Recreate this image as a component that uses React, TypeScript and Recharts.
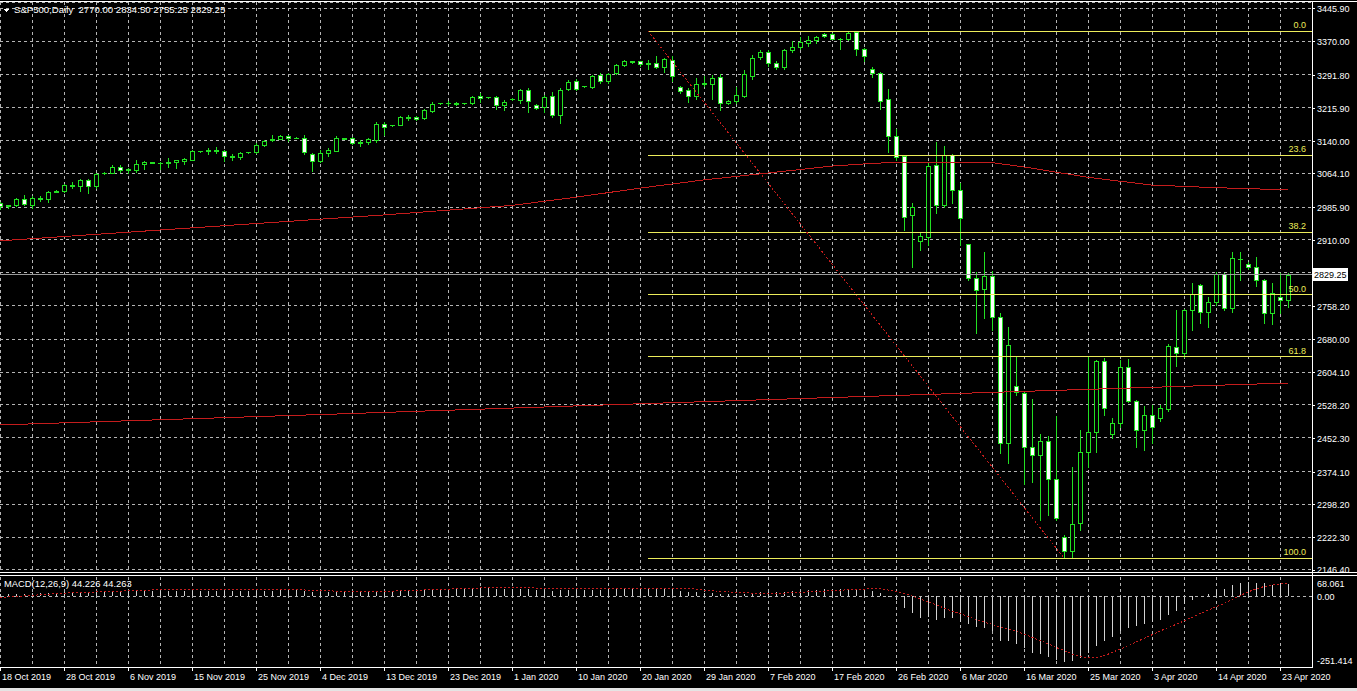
import React from "react";
import {
  ComposedChart,
  Bar,
  Line,
  XAxis,
  YAxis,
  CartesianGrid,
  ReferenceLine,
} from "recharts";

// date labels, one every 8 daily bars (the feed has Sunday bars)
const tickLabels = [
  "18 Oct 2019", "28 Oct 2019", "6 Nov 2019", "15 Nov 2019", "25 Nov 2019",
  "4 Dec 2019", "13 Dec 2019", "23 Dec 2019", "1 Jan 2020", "10 Jan 2020",
  "20 Jan 2020", "29 Jan 2020", "7 Feb 2020", "17 Feb 2020", "26 Feb 2020",
  "6 Mar 2020", "16 Mar 2020", "25 Mar 2020", "3 Apr 2020", "14 Apr 2020",
  "23 Apr 2020",
];

const opens = [
  2996, 2988, 2990, 3005, 2992, 3008, 3004, 3022,
  3023, 3037, 3035, 3048, 3035, 3064, 3065, 3080,
  3071, 3073, 3086, 3089, 3089, 3087, 3090, 3093,
  3096, 3115, 3116, 3119, 3117, 3104, 3101, 3113,
  3113, 3130, 3141, 3144, 3150, 3146, 3146, 3110,
  3093, 3111, 3117, 3145, 3145, 3134, 3136, 3142,
  3178, 3175, 3177, 3194, 3194, 3192, 3209, 3226,
  3226, 3227, 3226, 3227, 3242, 3240, 3240, 3223,
  3236, 3235, 3257, 3222, 3217, 3244, 3199, 3259,
  3278, 3266, 3265, 3292, 3278, 3296, 3316, 3323,
  3323, 3318, 3320, 3311, 3327, 3264, 3256, 3244,
  3273, 3271, 3286, 3228, 3231, 3243, 3290, 3333,
  3346, 3319, 3311, 3349, 3357, 3366, 3373, 3386,
  3386, 3376, 3375, 3391, 3352, 3305, 3297, 3236,
  3150, 3104, 2968, 2908, 2918, 3084, 2992, 3106,
  3026, 2900, 2822, 2796, 2826, 2732, 2441, 2571,
  2556, 2431, 2412, 2445, 2357, 2223, 2190, 2255,
  2419, 2466, 2630, 2460, 2486, 2616, 2537, 2470,
  2505, 2498, 2519, 2662, 2648, 2748, 2806, 2744,
  2766, 2831, 2752, 2866, 2855, 2847, 2817, 2741,
  2778, 2770,
];

const highs = [
  2999, 2992, 3008, 3013, 3012, 3012, 3023, 3025,
  3040, 3045, 3051, 3050, 3066, 3067, 3083, 3083,
  3076, 3095, 3092, 3091, 3090, 3099, 3095, 3100,
  3118, 3117, 3123, 3125, 3119, 3108, 3114, 3114,
  3134, 3142, 3152, 3152, 3154, 3148, 3154, 3112,
  3119, 3123, 3150, 3146, 3148, 3142, 3146, 3183,
  3184, 3177, 3198, 3199, 3198, 3213, 3230, 3228,
  3232, 3229, 3227, 3242, 3249, 3241, 3243, 3233,
  3238, 3260, 3262, 3224, 3245, 3252, 3262, 3280,
  3282, 3267, 3292, 3296, 3297, 3318, 3327, 3325,
  3325, 3327, 3336, 3331, 3335, 3266, 3262, 3285,
  3290, 3292, 3294, 3235, 3265, 3303, 3337, 3350,
  3349, 3323, 3352, 3370, 3380, 3382, 3383, 3388,
  3388, 3378, 3393, 3393, 3355, 3310, 3299, 3259,
  3166, 3106, 2996, 2927, 3090, 3136, 3128, 3110,
  3042, 2901, 2836, 2882, 2838, 2742, 2708, 2640,
  2560, 2542, 2461, 2456, 2503, 2228, 2385, 2470,
  2639, 2633, 2637, 2498, 2632, 2634, 2540, 2526,
  2527, 2527, 2670, 2748, 2750, 2810, 2808, 2778,
  2835, 2834, 2882, 2882, 2858, 2870, 2820, 2810,
  2834, 2834.5,
];

const lows = [
  2981, 2985, 2988, 2992, 2983, 3000, 2998, 3020,
  3021, 3030, 3024, 3019, 3030, 3062, 3064, 3068,
  3064, 3068, 3075, 3087, 3075, 3080, 3077, 3085,
  3094, 3114, 3110, 3111, 3093, 3094, 3097, 3111,
  3112, 3128, 3139, 3143, 3140, 3145, 3110, 3070,
  3090, 3104, 3115, 3143, 3133, 3127, 3133, 3136,
  3152, 3174, 3175, 3188, 3187, 3190, 3205, 3225,
  3222, 3222, 3225, 3225, 3230, 3239, 3213, 3210,
  3235, 3226, 3206, 3212, 3206, 3195, 3181, 3256,
  3257, 3265, 3262, 3274, 3273, 3294, 3313, 3319,
  3312, 3306, 3309, 3298, 3278, 3250, 3230, 3236,
  3266, 3237, 3211, 3225, 3226, 3240, 3283, 3328,
  3313, 3305, 3305, 3344, 3352, 3360, 3365, 3380,
  3374, 3352, 3373, 3337, 3324, 3287, 3212, 3114,
  3096, 2933, 2847, 2887, 2898, 2972, 2986, 2995,
  2898, 2818, 2694, 2729, 2702, 2417, 2394, 2552,
  2345, 2350, 2262, 2274, 2262, 2174, 2174, 2239,
  2385, 2420, 2505, 2452, 2477, 2535, 2431, 2424,
  2440, 2490, 2515, 2618, 2640, 2702, 2718, 2709,
  2760, 2747, 2743, 2817, 2843, 2803, 2718, 2715,
  2741, 2755.25,
];

const closes = [
  2988, 2990, 3005, 2994, 3008, 3004, 3020, 3023,
  3037, 3035, 3048, 3035, 3063, 3065, 3079, 3071,
  3074, 3085, 3091, 3090, 3087, 3091, 3094, 3097,
  3116, 3116, 3119, 3117, 3105, 3101, 3111, 3113,
  3130, 3140, 3144, 3150, 3145, 3146, 3113, 3093,
  3111, 3118, 3146, 3144, 3135, 3137, 3143, 3178,
  3172, 3176, 3194, 3192, 3190, 3210, 3225, 3227,
  3227, 3225, 3226, 3240, 3238, 3240, 3222, 3230,
  3237, 3257, 3232, 3216, 3241, 3199, 3258, 3276,
  3260, 3266, 3290, 3278, 3295, 3316, 3323, 3321,
  3318, 3319, 3311, 3328, 3290, 3255, 3244, 3272,
  3272, 3285, 3227, 3231, 3245, 3294, 3332, 3346,
  3320, 3311, 3349, 3357, 3367, 3372, 3380, 3382,
  3376, 3375, 3390, 3352, 3336, 3297, 3232, 3150,
  3103, 2963, 2986, 2919, 3082, 2992, 3106, 3026,
  2962, 2822, 2794, 2827, 2731, 2441, 2667, 2559,
  2431, 2413, 2445, 2357, 2267, 2190, 2253, 2419,
  2466, 2630, 2521, 2486, 2616, 2537, 2470, 2505,
  2477, 2521, 2664, 2648, 2748, 2785, 2744, 2766,
  2831, 2753, 2868, 2867, 2847, 2817, 2741, 2787,
  2770, 2829.25,
];

// MACD(12,26,9): main line drawn as histogram, signal as dotted line
const macdHist = [
  6, 7, 8, 9, 10, 11, 12, 13,
  14, 15, 16, 15, 17, 17, 18, 18,
  18, 19, 19, 19, 19, 19, 19, 19,
  20, 20, 20, 19, 18, 17, 17, 17,
  18, 19, 20, 21, 21, 21, 19, 15,
  14, 14, 16, 16, 15, 15, 15, 18,
  19, 20, 21, 22, 23, 24, 26, 27,
  27, 27, 27, 28, 28, 28, 26, 25,
  25, 26, 24, 22, 22, 19, 21, 22,
  22, 22, 23, 23, 24, 26, 27, 28,
  28, 28, 27, 27, 24, 19, 15, 14,
  13, 13, 9, 7, 7, 9, 12, 15,
  15, 14, 16, 18, 20, 22, 23, 24,
  25, 25, 26, 24, 22, 18, 10, -2,
  -14, -42, -60, -76, -74, -83, -76, -76,
  -91, -98, -110, -114, -125, -158, -158, -170,
  -184, -201, -204, -217, -227, -232, -230, -220,
  -203, -176, -160, -146, -124, -113, -105, -98,
  -93, -84, -68, -53, -29, -12, -1, 7,
  22, 26, 38, 48, 50, 48, 48, 41,
  45, 44.226,
];

const macdSignal = [
  -5, -3, -1, 1, 3, 5, 7, 9,
  11, 12, 13, 14, 15, 16, 17, 18,
  19, 20, 21, 22, 22, 23, 23, 23,
  24, 24, 24, 24, 24, 24, 24, 24,
  24, 23, 23, 23, 23, 22, 22, 21,
  20, 19, 18, 17, 17, 17, 17, 17,
  18, 18, 19, 20, 21, 22, 23, 24,
  25, 26, 27, 28, 29, 30, 30, 30,
  30, 30, 30, 29, 28, 27, 27, 27,
  27, 27, 27, 27, 27, 27, 28, 28,
  28, 29, 29, 29, 29, 28, 27, 25,
  22, 20, 17, 15, 13, 12, 11, 11,
  11, 11, 11, 12, 13, 15, 16, 18,
  20, 21, 23, 24, 25, 26, 26, 22,
  17, 10, 1, -10, -20, -31, -42, -53,
  -62, -72, -82, -92, -100, -109, -117, -125,
  -134, -146, -158, -168, -182, -193, -205, -214,
  -218, -217, -212, -200, -188, -176, -163, -150,
  -137, -124, -112, -100, -88, -75, -62, -50,
  -38, -26, -12, 2, 15, 26, 34, 40,
  43, 44.263,
];

// moving averages, read at a few bars
const maFastBars = [0, 8, 16, 24, 32, 40, 48, 56, 64, 72, 80, 88, 96, 104, 108, 112, 116, 120, 124, 128, 136, 144, 152, 161];
const maFastValues = [2908, 2918, 2928, 2938, 2948, 2958, 2968, 2979, 2990, 3009, 3030, 3049, 3065, 3081, 3086, 3090, 3090, 3090, 3089, 3079, 3055, 3037, 3031, 3026];
const maSlowBars = [0, 40, 80, 120, 161];
const maSlowValues = [2482, 2506, 2531, 2555, 2579];

const priceTicks = [
  3445.9, 3370.0, 3291.8, 3215.9, 3140.0, 3064.1, 2985.9, 2910.0, 2834.1,
  2758.2, 2680.0, 2604.1, 2528.2, 2452.3, 2374.1, 2298.2, 2222.3, 2146.4,
];
const coveredPriceTick = 2834.1;

const macdTicks = [68.061, 0, -251.414];
const macdTickLabels = ["68.061", "0.00", "-251.414"];

const fibLevels = [0, 23.6, 38.2, 50, 61.8, 100];
const fibHigh = 3393.5;
const fibLow = 2174;
const fibStartBar = 81;
const fibLowBar = 133;

const FONT = "'Liberation Sans', Arial, sans-serif";
const GREEN = "#22e022";
const GRID = "#b4b4b4";
const RED = "#c41c1c";
const YELLOW = "#ecec5a";

const last = closes.length - 1;
const gridBars = tickLabels.flatMap((_, k) => [k * 8, k * 8 + 4]);
const xDomain = [0, 164];

const data = opens.map((o, i) => {
  const f = maFastBars.indexOf(i);
  const s = maSlowBars.indexOf(i);
  return {
    i,
    open: o,
    high: highs[i],
    low: lows[i],
    close: closes[i],
    hist: macdHist[i],
    signal: macdSignal[i],
    maFast: f >= 0 ? maFastValues[f] : null,
    maSlow: s >= 0 ? maSlowValues[s] : null,
  };
});

function Candle(props: any) {
  const { x, y, width, height, payload } = props;
  if (x == null || !payload) return null;
  const { open, close, high, low } = payload;
  const cx = Math.round(x + width / 2) + 0.5;
  const k = high > low ? height / (high - low) : 0;
  const py = (v: number) => y + (high - v) * k;
  const top = Math.round(py(Math.max(open, close))) + 0.5;
  const bot = Math.round(py(Math.min(open, close))) + 0.5;
  const bear = close < open;
  return (
    <g>
      <line x1={cx} x2={cx} y1={Math.round(y)} y2={Math.round(y + height) + 1} stroke={GREEN} />
      {bot - top < 1 ? (
        <line x1={cx - 2.5} x2={cx + 2.5} y1={top} y2={top} stroke={GREEN} />
      ) : (
        <rect x={cx - 2} y={top} width={4} height={bot - top} fill={bear ? "#ffffff" : "#000000"} stroke={GREEN} />
      )}
    </g>
  );
}

function HistBar(props: any) {
  const { x, y, width, height } = props;
  if (x == null) return null;
  const cx = Math.round(x + width / 2) + 0.5;
  return <line x1={cx} x2={cx} y1={y} y2={y + height} stroke="#d2d2d2" />;
}

function EmptyTick() {
  return <g />;
}

function PriceTick({ x, y, payload, index }: any) {
  const v = payload.value;
  if (v === coveredPriceTick) return <g />;
  const shift = index === priceTicks.length - 1 ? -1 : 0;
  return (
    <g>
      <line x1={x} x2={x + 3} y1={y + 0.5} y2={y + 0.5} stroke="#fff" />
      <text x={x + 5} y={y + 4 + shift} fill="#fff" fontSize={9} fontFamily={FONT}>
        {v.toFixed(2)}
      </text>
    </g>
  );
}

function MacdTick({ x, y, index }: any) {
  const shift = index === 0 ? 6 : index === macdTicks.length - 1 ? -7 : 0;
  return (
    <text x={x + 5} y={y + 4 + shift} fill="#fff" fontSize={9} fontFamily={FONT}>
      {macdTickLabels[index]}
    </text>
  );
}

function DateTick({ x, y, payload }: any) {
  const v = payload.value;
  if (v % 8 !== 0) return <g />;
  const cx = Math.round(x) + 0.5;
  return (
    <g>
      <line x1={cx} x2={cx} y1={y} y2={y + 4} stroke="#fff" />
      <text x={cx + 1.5} y={y + 13} fill="#fff" fontSize={9} fontFamily={FONT}>
        {tickLabels[v / 8]}
      </text>
    </g>
  );
}

const fibLabel = (text: string) => (p: any) => {
  const vb = p.viewBox;
  return (
    <text x={vb.x + vb.width - 6} y={vb.y - 3} textAnchor="end" fill={YELLOW} fontSize={9} fontFamily={FONT}>
      {text}
    </text>
  );
};

const bidLabel = (p: any) => {
  const vb = p.viewBox;
  const left = vb.x + vb.width;
  return (
    <g>
      <rect x={left + 0.5} y={Math.round(vb.y) - 6.5} width={35} height={12} fill="#fff" stroke="#fff" />
      <text x={left + 2} y={vb.y + 3.5} fill="#000" fontSize={9} fontFamily={FONT}>
        {closes[last].toFixed(2)}
      </text>
    </g>
  );
};

const line = (top: number, left: number, w: number, h: number, c = "#fff") => (
  <div style={{ position: "absolute", top, left, width: w, height: h, background: c }} />
);

export default function App() {
  const title = `S&P500,Daily  ${opens[last].toFixed(2)} ${highs[last].toFixed(2)} ${lows[last].toFixed(2)} ${closes[last].toFixed(2)}`;
  const macdTitle = `MACD(12,26,9) ${macdHist[last].toFixed(3)} ${macdSignal[last].toFixed(3)}`;
  return (
    <div
      style={{
        position: "absolute",
        left: 0,
        top: 0,
        width: 1357,
        height: 691,
        background: "#000",
        overflow: "hidden",
        shapeRendering: "crispEdges",
      }}
    >
      <div style={{ position: "absolute", left: 0, top: 0 }}>
        <ComposedChart width={1357} height={577} data={data} margin={{ top: 2, right: 0, bottom: 0, left: 0 }}>
          <CartesianGrid stroke={GRID} strokeDasharray="3 3" />
          <XAxis
            dataKey="i"
            type="number"
            domain={xDomain}
            ticks={gridBars}
            interval={0}
            allowDataOverflow
            height={5}
            axisLine={false}
            tickLine={false}
            tick={<EmptyTick />}
          />
          <YAxis
            orientation="right"
            width={45}
            type="number"
            domain={[2141.69, 3460.67]}
            allowDataOverflow
            ticks={priceTicks}
            interval={0}
            axisLine={false}
            tickLine={false}
            tickSize={0}
            tickMargin={0}
            tick={<PriceTick />}
          />
          <Line dataKey="maSlow" stroke={RED} strokeWidth={1} dot={false} connectNulls isAnimationActive={false} />
          <Line dataKey="maFast" stroke={RED} strokeWidth={1} dot={false} connectNulls isAnimationActive={false} />
          <ReferenceLine y={closes[last]} stroke="#9a9a9a" label={bidLabel} />
          {fibLevels.map((lv) => (
            <ReferenceLine
              key={lv}
              segment={[
                { x: fibStartBar, y: fibHigh - (lv / 100) * (fibHigh - fibLow) },
                { x: xDomain[1], y: fibHigh - (lv / 100) * (fibHigh - fibLow) },
              ]}
              stroke={YELLOW}
              label={fibLabel(lv.toFixed(1))}
            />
          ))}
          <ReferenceLine
            segment={[
              { x: fibStartBar, y: fibHigh },
              { x: fibLowBar, y: fibLow },
            ]}
            stroke={RED}
            strokeDasharray="2 2"
          />
          <Bar
            dataKey={(d: any) => [d.low, d.high]}
            shape={<Candle />}
            barSize={5}
            isAnimationActive={false}
          />
        </ComposedChart>
      </div>

      <div style={{ position: "absolute", left: 0, top: 574 }}>
        <ComposedChart width={1357} height={117} data={data} margin={{ top: 3, right: 0, bottom: 0, left: 0 }}>
          <CartesianGrid stroke={GRID} strokeDasharray="3 3" horizontal={false} />
          <XAxis
            dataKey="i"
            type="number"
            domain={xDomain}
            ticks={gridBars}
            interval={0}
            allowDataOverflow
            height={24}
            axisLine={false}
            tickLine={false}
            tickSize={0}
            tickMargin={0}
            tick={<DateTick />}
          />
          <YAxis
            orientation="right"
            width={45}
            type="number"
            domain={[-251.414, 68.061]}
            allowDataOverflow
            ticks={macdTicks}
            interval={0}
            axisLine={false}
            tickLine={false}
            tickSize={0}
            tickMargin={0}
            tick={<MacdTick />}
          />
          <ReferenceLine y={0} stroke={GRID} strokeDasharray="3 3" />
          <Bar dataKey="hist" shape={<HistBar />} barSize={1} isAnimationActive={false} />
          <Line dataKey="signal" stroke={RED} strokeWidth={1} strokeDasharray="2 2" dot={false} isAnimationActive={false} />
        </ComposedChart>
      </div>

      {line(1, 0, 1357, 1)}
      {line(572, 0, 1357, 1)}
      {line(575, 0, 1357, 1)}
      {line(667, 0, 1313, 1)}
      {line(1, 1312, 1, 667)}
      {line(688, 0, 1357, 3, "#e4e4e4")}

      <svg style={{ position: "absolute", left: 0, top: 0 }} width={12} height={16}>
        <polygon points="3,9 9,9 6,12" fill="#fff" />
      </svg>
      <div
        style={{
          position: "absolute",
          left: 14,
          top: 4,
          color: "#fff",
          fontFamily: FONT,
          fontSize: 9.6,
          lineHeight: "12px",
          whiteSpace: "pre",
        }}
      >
        {title}
      </div>
      <div
        style={{
          position: "absolute",
          left: 4,
          top: 578,
          color: "#fff",
          fontFamily: FONT,
          fontSize: 9.4,
          lineHeight: "12px",
          whiteSpace: "pre",
        }}
      >
        {macdTitle}
      </div>
    </div>
  );
}
